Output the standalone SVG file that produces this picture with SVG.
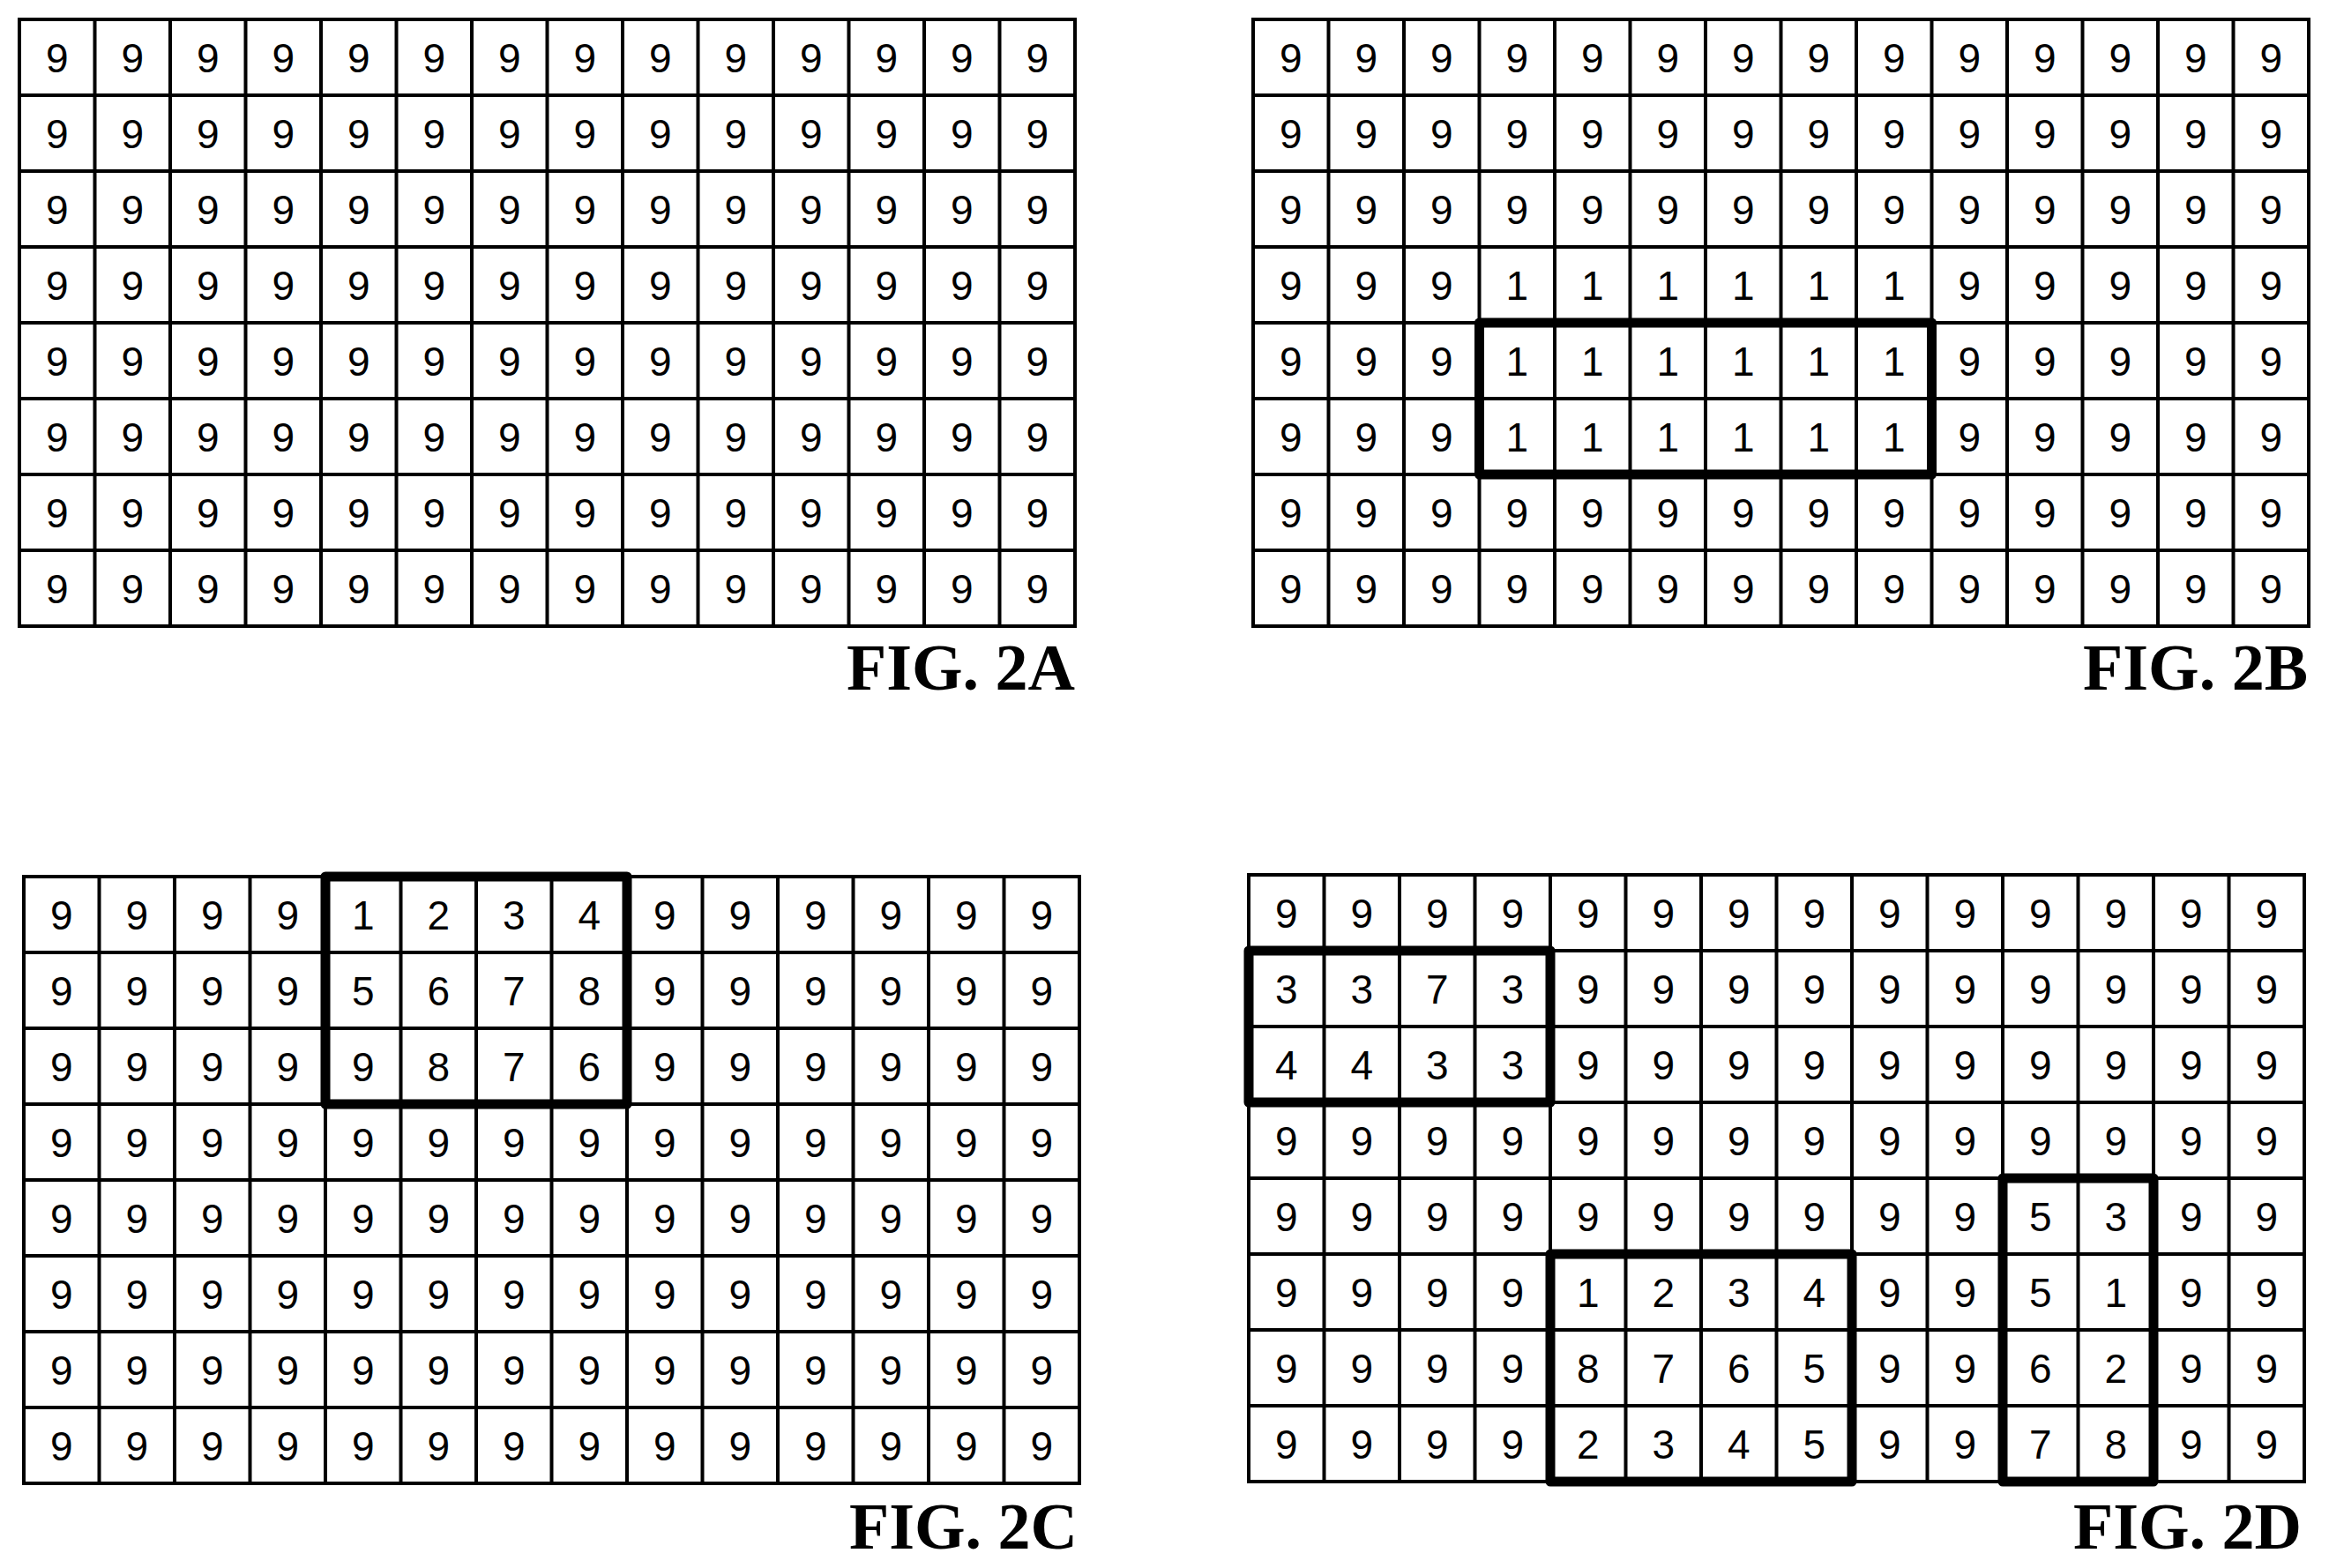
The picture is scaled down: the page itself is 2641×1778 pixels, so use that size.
<svg xmlns="http://www.w3.org/2000/svg" width="2641" height="1778" viewBox="0 0 2641 1778">
<defs>
<style>
.d{font-family:"Liberation Sans",Arial,sans-serif;font-size:46px;text-anchor:middle;fill:#000}
.g{fill:none;stroke:#000;stroke-width:4}
.t{fill:none;stroke:#000;stroke-width:11;stroke-linejoin:round}
.l{font-family:"Liberation Serif","Times New Roman",serif;font-size:74px;font-weight:bold;text-anchor:end;fill:#000}
</style>
<path id="grid" class="g" d="M0 0H1197V688H0Z M85.5 0V688 M171 0V688 M256.5 0V688 M342 0V688 M427.5 0V688 M513 0V688 M598.5 0V688 M684 0V688 M769.5 0V688 M855 0V688 M940.5 0V688 M1026 0V688 M1111.5 0V688 M0 86H1197 M0 172H1197 M0 258H1197 M0 344H1197 M0 430H1197 M0 516H1197 M0 602H1197"/>
</defs>
<rect width="2641" height="1778" fill="#fff"/>
<g id="fig2a" transform="translate(22,22)">
<use href="#grid"/>
<g class="d">
<text x="42.75 128.25 213.75 299.25 384.75 470.25 555.75 641.25 726.75 812.25 897.75 983.25 1068.75 1154.25" y="60">99999999999999</text>
<text x="42.75 128.25 213.75 299.25 384.75 470.25 555.75 641.25 726.75 812.25 897.75 983.25 1068.75 1154.25" y="146">99999999999999</text>
<text x="42.75 128.25 213.75 299.25 384.75 470.25 555.75 641.25 726.75 812.25 897.75 983.25 1068.75 1154.25" y="232">99999999999999</text>
<text x="42.75 128.25 213.75 299.25 384.75 470.25 555.75 641.25 726.75 812.25 897.75 983.25 1068.75 1154.25" y="318">99999999999999</text>
<text x="42.75 128.25 213.75 299.25 384.75 470.25 555.75 641.25 726.75 812.25 897.75 983.25 1068.75 1154.25" y="404">99999999999999</text>
<text x="42.75 128.25 213.75 299.25 384.75 470.25 555.75 641.25 726.75 812.25 897.75 983.25 1068.75 1154.25" y="490">99999999999999</text>
<text x="42.75 128.25 213.75 299.25 384.75 470.25 555.75 641.25 726.75 812.25 897.75 983.25 1068.75 1154.25" y="576">99999999999999</text>
<text x="42.75 128.25 213.75 299.25 384.75 470.25 555.75 641.25 726.75 812.25 897.75 983.25 1068.75 1154.25" y="662">99999999999999</text>
</g>
</g>
<text class="l" x="1219" y="782">FIG. 2A</text>
<g id="fig2b" transform="translate(1421,22)">
<use href="#grid"/>
<rect class="t" x="256.5" y="344" width="513" height="172"/>
<g class="d">
<text x="42.75 128.25 213.75 299.25 384.75 470.25 555.75 641.25 726.75 812.25 897.75 983.25 1068.75 1154.25" y="60">99999999999999</text>
<text x="42.75 128.25 213.75 299.25 384.75 470.25 555.75 641.25 726.75 812.25 897.75 983.25 1068.75 1154.25" y="146">99999999999999</text>
<text x="42.75 128.25 213.75 299.25 384.75 470.25 555.75 641.25 726.75 812.25 897.75 983.25 1068.75 1154.25" y="232">99999999999999</text>
<text x="42.75 128.25 213.75 299.25 384.75 470.25 555.75 641.25 726.75 812.25 897.75 983.25 1068.75 1154.25" y="318">99911111199999</text>
<text x="42.75 128.25 213.75 299.25 384.75 470.25 555.75 641.25 726.75 812.25 897.75 983.25 1068.75 1154.25" y="404">99911111199999</text>
<text x="42.75 128.25 213.75 299.25 384.75 470.25 555.75 641.25 726.75 812.25 897.75 983.25 1068.75 1154.25" y="490">99911111199999</text>
<text x="42.75 128.25 213.75 299.25 384.75 470.25 555.75 641.25 726.75 812.25 897.75 983.25 1068.75 1154.25" y="576">99999999999999</text>
<text x="42.75 128.25 213.75 299.25 384.75 470.25 555.75 641.25 726.75 812.25 897.75 983.25 1068.75 1154.25" y="662">99999999999999</text>
</g>
</g>
<text class="l" x="2617" y="782">FIG. 2B</text>
<g id="fig2c" transform="translate(27,994)">
<use href="#grid"/>
<rect class="t" x="342" y="0" width="342" height="258"/>
<g class="d">
<text x="42.75 128.25 213.75 299.25 384.75 470.25 555.75 641.25 726.75 812.25 897.75 983.25 1068.75 1154.25" y="60">99991234999999</text>
<text x="42.75 128.25 213.75 299.25 384.75 470.25 555.75 641.25 726.75 812.25 897.75 983.25 1068.75 1154.25" y="146">99995678999999</text>
<text x="42.75 128.25 213.75 299.25 384.75 470.25 555.75 641.25 726.75 812.25 897.75 983.25 1068.75 1154.25" y="232">99999876999999</text>
<text x="42.75 128.25 213.75 299.25 384.75 470.25 555.75 641.25 726.75 812.25 897.75 983.25 1068.75 1154.25" y="318">99999999999999</text>
<text x="42.75 128.25 213.75 299.25 384.75 470.25 555.75 641.25 726.75 812.25 897.75 983.25 1068.75 1154.25" y="404">99999999999999</text>
<text x="42.75 128.25 213.75 299.25 384.75 470.25 555.75 641.25 726.75 812.25 897.75 983.25 1068.75 1154.25" y="490">99999999999999</text>
<text x="42.75 128.25 213.75 299.25 384.75 470.25 555.75 641.25 726.75 812.25 897.75 983.25 1068.75 1154.25" y="576">99999999999999</text>
<text x="42.75 128.25 213.75 299.25 384.75 470.25 555.75 641.25 726.75 812.25 897.75 983.25 1068.75 1154.25" y="662">99999999999999</text>
</g>
</g>
<text class="l" x="1222" y="1756">FIG. 2C</text>
<g id="fig2d" transform="translate(1416,992)">
<use href="#grid"/>
<rect class="t" x="0" y="86" width="342" height="172"/>
<rect class="t" x="342" y="430" width="342" height="258"/>
<rect class="t" x="855" y="344" width="171" height="344"/>
<g class="d">
<text x="42.75 128.25 213.75 299.25 384.75 470.25 555.75 641.25 726.75 812.25 897.75 983.25 1068.75 1154.25" y="60">99999999999999</text>
<text x="42.75 128.25 213.75 299.25 384.75 470.25 555.75 641.25 726.75 812.25 897.75 983.25 1068.75 1154.25" y="146">33739999999999</text>
<text x="42.75 128.25 213.75 299.25 384.75 470.25 555.75 641.25 726.75 812.25 897.75 983.25 1068.75 1154.25" y="232">44339999999999</text>
<text x="42.75 128.25 213.75 299.25 384.75 470.25 555.75 641.25 726.75 812.25 897.75 983.25 1068.75 1154.25" y="318">99999999999999</text>
<text x="42.75 128.25 213.75 299.25 384.75 470.25 555.75 641.25 726.75 812.25 897.75 983.25 1068.75 1154.25" y="404">99999999995399</text>
<text x="42.75 128.25 213.75 299.25 384.75 470.25 555.75 641.25 726.75 812.25 897.75 983.25 1068.75 1154.25" y="490">99991234995199</text>
<text x="42.75 128.25 213.75 299.25 384.75 470.25 555.75 641.25 726.75 812.25 897.75 983.25 1068.75 1154.25" y="576">99998765996299</text>
<text x="42.75 128.25 213.75 299.25 384.75 470.25 555.75 641.25 726.75 812.25 897.75 983.25 1068.75 1154.25" y="662">99992345997899</text>
</g>
</g>
<text class="l" x="2610" y="1756">FIG. 2D</text>
</svg>
